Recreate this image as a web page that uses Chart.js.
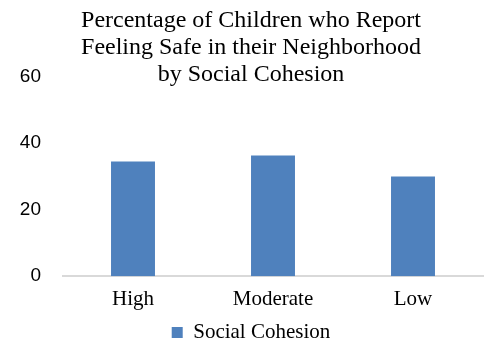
<!DOCTYPE html>
<html>
<head>
<meta charset="utf-8">
<script src="https://cdn.jsdelivr.net/npm/chart.js@4.4.1/dist/chart.umd.min.js"></script>
<style>
  html, body { margin: 0; padding: 0; background: #ffffff; }
  #wrap { width: 484px; height: 339px; }
</style>
</head>
<body>
<div id="wrap"><canvas id="chart" width="484" height="339"></canvas></div>
<script>
// Cohesion levels and the share of children reporting they feel safe (%)
const categories = ['High', 'Moderate', 'Low'];
const safePercent = [34.4, 36.2, 29.9];
const seriesName = 'Social Cohesion';
const titleLines = ['Percentage of Children who Report', 'Feeling Safe in their Neighborhood', 'by Social Cohesion'];
const yTicks = [0, 20, 40, 60];

const serif = "'Liberation Serif', 'Times New Roman', serif";
const sans = "'Liberation Sans', Arial, sans-serif";

new Chart(document.getElementById('chart'), {
  type: 'bar',
  data: {
    labels: categories,
    datasets: [{
      label: seriesName,
      data: safePercent,
      backgroundColor: '#4F81BD',
      borderWidth: 0,
      categoryPercentage: 1,
      barPercentage: 0.314
    }]
  },
  options: {
    responsive: false,
    animation: false,
    layout: { padding: { left: 19, right: 1, top: 0, bottom: -14 } },
    plugins: {
      title: {
        display: true,
        text: titleLines,
        color: '#000000',
        font: { family: serif, size: 24, weight: 'normal', lineHeight: 1.13 },
        padding: { top: 7, bottom: -12 }
      },
      legend: {
        position: 'bottom',
        labels: {
          color: '#000000',
          font: { family: serif, size: 21 },
          boxWidth: 11,
          boxHeight: 11,
          padding: 0
        }
      },
      tooltip: { enabled: false }
    },
    scales: {
      x: {
        grid: { display: false, drawTicks: false },
        border: { display: true, color: '#D9D9D9', width: 2 },
        ticks: { color: '#000000', font: { family: serif, size: 21, lineHeight: 0.85 }, padding: 14 }
      },
      y: {
        min: 0,
        max: 60,
        afterBuildTicks: (scale) => { scale.ticks = yTicks.map(v => ({ value: v })); },
        grid: { display: false, drawTicks: false },
        border: { display: false },
        ticks: { color: '#000000', font: { family: sans, size: 19 }, padding: 22 },
        afterFit: (scale) => { scale.width = 44; }
      }
    }
  }
});
</script>
</body>
</html>
